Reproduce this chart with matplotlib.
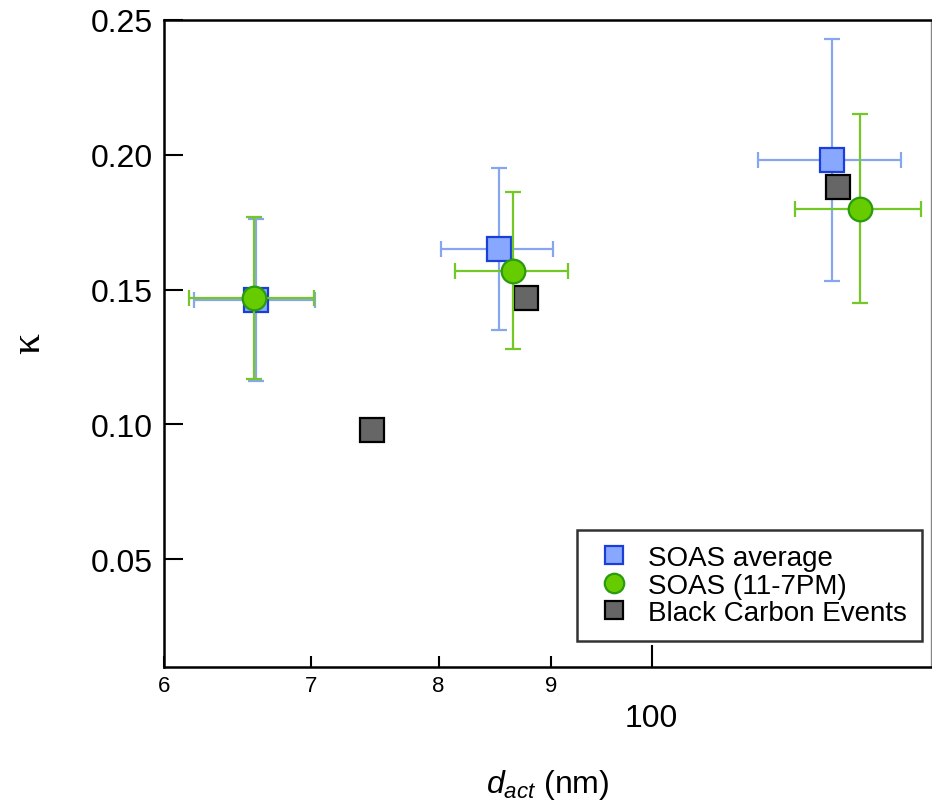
import matplotlib
matplotlib.use("Agg")
import matplotlib.pyplot as plt
from matplotlib.lines import Line2D
from matplotlib.ticker import NullLocator

plt.rcParams['font.family'] = ['Liberation Sans', 'DejaVu Sans']
plt.rcParams['mathtext.fontset'] = 'custom'
plt.rcParams['mathtext.rm'] = 'Liberation Sans'
plt.rcParams['mathtext.it'] = 'Liberation Sans:italic'

# SOAS average
avg_d = [66.1, 85.2, 120.8]
avg_d_err = [4.2, 5.0, 9.0]
avg_k = [0.146, 0.165, 0.198]
avg_k_err = [0.030, 0.030, 0.045]

# SOAS (11-7PM)
aft_d = [65.9, 86.5, 124.4]
aft_d_err = [4.3, 5.1, 8.2]
aft_k = [0.147, 0.157, 0.180]
aft_k_err = [0.030, 0.029, 0.035]

# black carbon events
bc_d = [74.6, 87.7, 121.5]
bc_k = [0.098, 0.147, 0.188]

minor_ticks = [60, 70, 80, 90]
minor_labels = ['6', '7', '8', '9']
major_ticks = [100]
major_labels = ['100']
k_ticks = [0.05, 0.10, 0.15, 0.20, 0.25]
k_labels = ['0.05', '0.10', '0.15', '0.20', '0.25']

blue_face, blue_edge, blue_bar = '#88a8ff', '#1a3fd6', '#88a6ee'
green_face, green_edge, green_bar = '#66cc00', '#2a9a10', '#74c826'
grey_face = '#666666'

fig = plt.figure(figsize=(9.32, 8.04), dpi=100)
ax = fig.add_axes([0.176, 0.169, 0.823, 0.805])

ax.errorbar(avg_d, avg_k, xerr=avg_d_err, yerr=avg_k_err, fmt='s',
            ecolor=blue_bar, elinewidth=1.6, capsize=6, capthick=1.6,
            markersize=17, markerfacecolor=blue_face,
            markeredgecolor=blue_edge, markeredgewidth=1.6, zorder=2)
ax.plot(bc_d, bc_k, 's', markersize=17, markerfacecolor=grey_face,
        markeredgecolor='black', markeredgewidth=1.6, zorder=3)
ax.errorbar(aft_d, aft_k, xerr=aft_d_err, yerr=aft_k_err, fmt='o',
            ecolor=green_bar, elinewidth=1.6, capsize=6, capthick=1.6,
            markersize=17, markerfacecolor=green_face,
            markeredgecolor=green_edge, markeredgewidth=1.6, zorder=4)

ax.set_xscale('log')
ax.set_xlim(60, 134)
ax.set_ylim(0.01, 0.25)

# log axis: 100 is the only decade tick, 60-90 carry the short labels
ax.set_xticks(major_ticks, major_labels, fontsize=23)
ax.set_xticks(minor_ticks, minor_labels, minor=True, fontsize=16)
ax.tick_params(axis='x', which='major', direction='in', length=16, width=1.5,
               pad=26)
ax.tick_params(axis='x', which='minor', direction='in', length=8, width=1.5,
               pad=6)

ax.set_yticks(k_ticks, k_labels, fontsize=23)
ax.yaxis.set_minor_locator(NullLocator())
ax.tick_params(axis='y', direction='in', length=14, width=1.5, pad=8)

for side in ['left', 'bottom', 'top']:
    ax.spines[side].set_linewidth(1.8)
ax.spines['right'].set_linewidth(1.0)
ax.spines['right'].set_color('#888888')

leg_handles = [
    Line2D([], [], ls='none', marker='s', markersize=13, markerfacecolor=blue_face,
           markeredgecolor=blue_edge, markeredgewidth=1.6),
    Line2D([], [], ls='none', marker='o', markersize=14, markerfacecolor=green_face,
           markeredgecolor=green_edge, markeredgewidth=1.6),
    Line2D([], [], ls='none', marker='s', markersize=13, markerfacecolor=grey_face,
           markeredgecolor='black', markeredgewidth=1.6),
]
leg_labels = ['SOAS average', 'SOAS (11-7PM)', 'Black Carbon Events']
leg = ax.legend(leg_handles, leg_labels, loc='lower right',
                bbox_to_anchor=(0.988, 0.04), fontsize=20, frameon=True,
                fancybox=False, edgecolor='black', borderpad=0.55,
                handletextpad=0.4, labelspacing=0.05, handlelength=1.6,
                borderaxespad=0)
leg.get_frame().set_linewidth(1.8)

fig.text(0.588, 0.024, r'$d_{act}$ (nm)', fontsize=23, ha='center', va='center')
fig.text(0.031, 0.573, 'κ', fontsize=30, family='Liberation Serif',
         rotation=90, ha='center', va='center')

fig.savefig('out.png', dpi=100)
